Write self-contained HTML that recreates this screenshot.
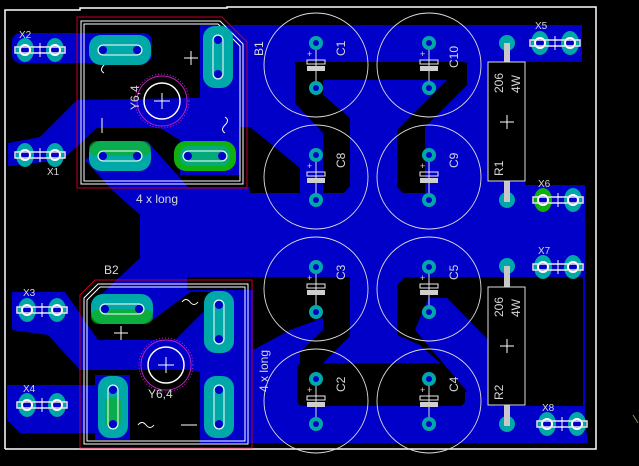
<!DOCTYPE html>
<html><head><meta charset="utf-8"><style>
html,body{margin:0;padding:0;background:#000;}
svg{display:block}
text{font-family:"Liberation Sans",sans-serif;fill:#d8d8d8;}
</style></head><body>
<svg width="639" height="466" viewBox="0 0 639 466" xmlns="http://www.w3.org/2000/svg">
<rect width="639" height="466" fill="#000"/>
<g fill="#0000c8">
<polygon points="200,25 582,25 582,62 525,62 525,185 585,185 585,420 588,443 253,443 253,292 190,292 150,322 118,322 95,300 140,258 140,195 250,192 250,100 200,100"/>
<rect x="12" y="33" width="140" height="30" rx="8"/>
<polygon points="8,143 40,137 77,100 250,97 318,140 318,165 300,170 250,127 240,127 240,175 180,175 180,140 160,128 97,128 62,160 8,166"/>
<polygon points="85,160 108,142 148,142 188,187 250,187 250,200 140,215 112,190"/>
<polygon points="12,292 65,292 98,340 175,340 240,275 253,270 253,372 200,372 190,370 80,370 48,335 12,330"/>
<polygon points="7,385 95,385 95,375 130,375 130,440 95,440 95,433 20,433 7,420"/>
<rect x="200" y="372" width="53" height="71"/>
</g>
<g fill="#000">
<polygon points="250,127 300,168 300,193 250,193"/>
<rect x="295" y="62" width="172" height="18" rx="4"/>
<polygon points="295,62 330,62 330,80 323,80 323,95 350,118 350,186 344,193 323,193 323,133 295,103"/>
<polygon points="467,62 467,85 425,127 425,193 403,193 397,187 397,130 447,80"/>
<polygon points="187,277 350,277 350,336 320,366 300,366 300,352 323,330 323,290 187,290"/>
<polygon points="253,290 323,290 323,318 290,330 253,350"/>
<rect x="297" y="363" width="168" height="43" rx="6"/>
<polygon points="405,277 583,277 583,406 527,406 527,406 465,406 465,385 420,345 397,335 397,285"/>
</g>
<g fill="#0000c8">
<polygon points="428,298 447,298 500,352 500,395 470,395 415,330"/>
<rect x="465" y="392" width="30" height="51"/>
</g>
<polyline points="5,449 5,10 80,10 80,8 227,8 227,7 596,7 596,449 5,449" fill="none" stroke="#fff" stroke-width="1.5"/>

<g fill="none">
<polygon points="77,17 222,17 247,42 247,188 77,188" stroke="#c00020" stroke-width="1"/>
<polygon points="81,21 220,21 243,44 243,184 81,184" stroke="#fff" stroke-width="1"/>
<polygon points="84,24 218,24 240,46 240,181 84,181" stroke="#fff" stroke-width="1"/>
<circle cx="162" cy="101" r="27" stroke="#c020c0" stroke-dasharray="1 2"/>
<circle cx="162" cy="101" r="25" stroke="#c020c0"/>
<circle cx="162" cy="101" r="18" stroke="#fff" stroke-width="1.5"/>
</g>
<g fill="none">
<polygon points="95,280 252,280 252,448 80,448 80,295" stroke="#c00020" stroke-width="1"/>
<polygon points="98,284 248,284 248,444 84,444 84,298" stroke="#fff"/>
<polygon points="100,287 245,287 245,441 87,441 87,300" stroke="#fff"/>
<circle cx="166" cy="365" r="27" stroke="#c020c0" stroke-dasharray="1 2"/>
<circle cx="166" cy="365" r="25" stroke="#c020c0"/>
<circle cx="166" cy="365" r="18" stroke="#fff" stroke-width="1.5"/>
</g>
<g stroke="#fff" stroke-width="1">
<line x1="154" y1="101" x2="170" y2="101"/><line x1="162" y1="93" x2="162" y2="109"/>
<line x1="158" y1="365" x2="174" y2="365"/><line x1="166" y1="357" x2="166" y2="373"/>
<line x1="184" y1="58" x2="198" y2="58"/><line x1="191" y1="51" x2="191" y2="65"/>
<line x1="102" y1="118" x2="102" y2="133"/>
<line x1="114" y1="333" x2="128" y2="333"/><line x1="121" y1="326" x2="121" y2="340"/>
<line x1="181" y1="425" x2="197" y2="425"/>
</g>
<g fill="none" stroke="#fff">
<path d="M104,73 q-5,-3 0,-8 q5,-5 0,-8" />
<path d="M225,117 q5,3 0,8 q-5,5 0,8"/>
<path d="M182,302 q4,-5 8,0 q4,5 8,0"/>
<path d="M138,425 q4,-5 8,0 q4,5 8,0"/>
</g>

<g>
<g transform="translate(120,50)"><rect x="-31" y="-15" width="62" height="30" rx="12" fill="#00a8a8"/><rect x="-22" y="-5" width="44" height="10" rx="5" fill="none" stroke="#fff"/><circle cx="-17" r="4" fill="#0000c8"/><circle cx="17" r="4" fill="#0000c8"/></g>
<g transform="translate(120,156)"><rect x="-31" y="-15" width="62" height="30" rx="12" fill="#00a8a8"/><rect x="-31" y="-15" width="62" height="15" rx="8" fill="#10b010" opacity=".6"/><rect x="-22" y="-5" width="44" height="10" rx="5" fill="none" stroke="#fff"/><circle cx="-17" r="4" fill="#0000c8"/><circle cx="17" r="4" fill="#0000c8"/></g>
<g transform="translate(205,156)"><rect x="-31" y="-15" width="62" height="30" rx="12" fill="#10b010"/><rect x="-25" y="-10" width="50" height="20" rx="9" fill="#00a8a8" opacity=".7"/><rect x="-22" y="-5" width="44" height="10" rx="5" fill="none" stroke="#fff"/><circle cx="-17" r="4" fill="#0000c8"/><circle cx="17" r="4" fill="#0000c8"/></g>
<g transform="translate(218,57)"><rect x="-15" y="-31" width="30" height="62" rx="12" fill="#00a8a8"/><rect x="-5" y="-22" width="10" height="44" rx="5" fill="none" stroke="#fff"/><circle cy="-17" r="4" fill="#0000c8"/><circle cy="17" r="4" fill="#0000c8"/></g>
<g transform="translate(122,309)"><rect x="-31" y="-15" width="62" height="30" rx="12" fill="#00a8a8"/><rect x="-31" y="0" width="62" height="15" rx="8" fill="#10b010" opacity=".7"/><rect x="-22" y="-5" width="44" height="10" rx="5" fill="none" stroke="#fff"/><circle cx="-17" r="4" fill="#0000c8"/><circle cx="17" r="4" fill="#0000c8"/></g>
<g transform="translate(219,322)"><rect x="-15" y="-31" width="30" height="62" rx="12" fill="#00a8a8"/><rect x="-5" y="-22" width="10" height="44" rx="5" fill="none" stroke="#fff"/><circle cy="-17" r="4" fill="#0000c8"/><circle cy="17" r="4" fill="#0000c8"/></g>
<g transform="translate(113,407)"><rect x="-15" y="-31" width="30" height="62" rx="12" fill="#00a8a8"/><rect x="-8" y="-10" width="16" height="30" rx="6" fill="#10b010" opacity=".6"/><rect x="-5" y="-22" width="10" height="44" rx="5" fill="none" stroke="#fff"/><circle cy="-17" r="4" fill="#0000c8"/><circle cy="17" r="4" fill="#0000c8"/></g>
<g transform="translate(219,407)"><rect x="-15" y="-31" width="30" height="62" rx="12" fill="#00a8a8"/><rect x="-5" y="-22" width="10" height="44" rx="5" fill="none" stroke="#fff"/><circle cy="-17" r="4" fill="#0000c8"/><circle cy="17" r="4" fill="#0000c8"/></g>
</g>

<g fill="none" stroke="#e0e0e0" stroke-width="0.9">
<circle cx="316" cy="65" r="52"/><circle cx="429" cy="65" r="52"/>
<circle cx="316" cy="177" r="52"/><circle cx="429" cy="177" r="52"/>
<circle cx="316" cy="289" r="52"/><circle cx="429" cy="289" r="52"/>
<circle cx="316" cy="401" r="52"/><circle cx="429" cy="401" r="52"/>
</g>
<g>
<g transform="translate(316,65)"><line y1="-22" y2="23" stroke="#ddd"/><rect x="-9" y="-5" width="18" height="4" fill="none" stroke="#eee"/><rect x="-9" y="1" width="18" height="5" fill="#cfcfcf"/><text x="-9" y="-8" font-size="9">+</text><circle cy="-22" r="7" fill="#00a8a8"/><circle cy="-22" r="3" fill="#0000c8"/><circle cy="23" r="7" fill="#00a8a8"/><circle cy="23" r="3" fill="#0000c8"/></g>
<g transform="translate(429,65)"><line y1="-22" y2="23" stroke="#ddd"/><rect x="-9" y="-5" width="18" height="4" fill="none" stroke="#eee"/><rect x="-9" y="1" width="18" height="5" fill="#cfcfcf"/><text x="-9" y="-8" font-size="9">+</text><circle cy="-22" r="7" fill="#00a8a8"/><circle cy="-22" r="3" fill="#0000c8"/><circle cy="23" r="7" fill="#00a8a8"/><circle cy="23" r="3" fill="#0000c8"/></g>
<g transform="translate(316,177)"><line y1="-22" y2="23" stroke="#ddd"/><rect x="-9" y="-5" width="18" height="4" fill="none" stroke="#eee"/><rect x="-9" y="1" width="18" height="5" fill="#cfcfcf"/><text x="-9" y="-8" font-size="9">+</text><circle cy="-22" r="7" fill="#00a8a8"/><circle cy="-22" r="3" fill="#0000c8"/><circle cy="23" r="7" fill="#00a8a8"/><circle cy="23" r="3" fill="#0000c8"/></g>
<g transform="translate(429,177)"><line y1="-22" y2="23" stroke="#ddd"/><rect x="-9" y="-5" width="18" height="4" fill="none" stroke="#eee"/><rect x="-9" y="1" width="18" height="5" fill="#cfcfcf"/><text x="-9" y="-8" font-size="9">+</text><circle cy="-22" r="7" fill="#00a8a8"/><circle cy="-22" r="3" fill="#0000c8"/><circle cy="23" r="7" fill="#00a8a8"/><circle cy="23" r="3" fill="#0000c8"/></g>
<g transform="translate(316,289)"><line y1="-22" y2="23" stroke="#ddd"/><rect x="-9" y="-5" width="18" height="4" fill="none" stroke="#eee"/><rect x="-9" y="1" width="18" height="5" fill="#cfcfcf"/><text x="-9" y="-8" font-size="9">+</text><circle cy="-22" r="7" fill="#00a8a8"/><circle cy="-22" r="3" fill="#0000c8"/><circle cy="23" r="7" fill="#00a8a8"/><circle cy="23" r="3" fill="#0000c8"/></g>
<g transform="translate(429,289)"><line y1="-22" y2="23" stroke="#ddd"/><rect x="-9" y="-5" width="18" height="4" fill="none" stroke="#eee"/><rect x="-9" y="1" width="18" height="5" fill="#cfcfcf"/><text x="-9" y="-8" font-size="9">+</text><circle cy="-22" r="7" fill="#00a8a8"/><circle cy="-22" r="3" fill="#0000c8"/><circle cy="23" r="7" fill="#00a8a8"/><circle cy="23" r="3" fill="#0000c8"/></g>
<g transform="translate(316,401)"><line y1="-22" y2="23" stroke="#ddd"/><rect x="-9" y="-5" width="18" height="4" fill="none" stroke="#eee"/><rect x="-9" y="1" width="18" height="5" fill="#cfcfcf"/><text x="-9" y="-8" font-size="9">+</text><circle cy="-22" r="7" fill="#00a8a8"/><circle cy="-22" r="3" fill="#0000c8"/><circle cy="23" r="7" fill="#00a8a8"/><circle cy="23" r="3" fill="#0000c8"/></g>
<g transform="translate(429,401)"><line y1="-22" y2="23" stroke="#ddd"/><rect x="-9" y="-5" width="18" height="4" fill="none" stroke="#eee"/><rect x="-9" y="1" width="18" height="5" fill="#cfcfcf"/><text x="-9" y="-8" font-size="9">+</text><circle cy="-22" r="7" fill="#00a8a8"/><circle cy="-22" r="3" fill="#0000c8"/><circle cy="23" r="7" fill="#00a8a8"/><circle cy="23" r="3" fill="#0000c8"/></g>
</g>
<g font-size="12">
<text transform="translate(345,56) rotate(-90)">C1</text>
<text transform="translate(458,68) rotate(-90)">C10</text>
<text transform="translate(345,168) rotate(-90)">C8</text>
<text transform="translate(458,168) rotate(-90)">C9</text>
<text transform="translate(345,280) rotate(-90)">C3</text>
<text transform="translate(458,280) rotate(-90)">C5</text>
<text transform="translate(345,392) rotate(-90)">C2</text>
<text transform="translate(458,392) rotate(-90)">C4</text>
<text transform="translate(263,56) rotate(-90)">B1</text>
<text x="104" y="274">B2</text>
<text x="136" y="203">4 x long</text>
<text transform="translate(268,392) rotate(-90)">4 x long</text>
<text transform="translate(139,110) rotate(-90)">Y6,4</text>
<text x="148" y="398">Y6,4</text>
</g>

<g>
<rect x="504" y="43" width="6" height="160" fill="#c8c8c8"/>
<rect x="488" y="62" width="37" height="119" fill="#000" stroke="#ddd"/>
<circle cx="507" cy="43" r="8" fill="#00a8a8"/><circle cx="507" cy="200" r="8" fill="#00a8a8"/>
<rect x="504" y="43" width="6" height="10" fill="#c8c8c8"/><rect x="504" y="190" width="6" height="12" fill="#c8c8c8"/>
<line x1="500" y1="122" x2="514" y2="122" stroke="#fff"/><line x1="507" y1="115" x2="507" y2="129" stroke="#fff"/>
<rect x="504" y="266" width="6" height="160" fill="#c8c8c8"/>
<rect x="488" y="287" width="37" height="118" fill="#000" stroke="#ddd"/>
<circle cx="507" cy="266" r="8" fill="#00a8a8"/><circle cx="507" cy="424" r="8" fill="#00a8a8"/>
<rect x="504" y="266" width="6" height="10" fill="#c8c8c8"/><rect x="504" y="414" width="6" height="12" fill="#c8c8c8"/>
<line x1="500" y1="346" x2="514" y2="346" stroke="#fff"/><line x1="507" y1="339" x2="507" y2="353" stroke="#fff"/>
</g>
<g font-size="12">
<text transform="translate(503,93) rotate(-90)">206</text>
<text transform="translate(520,93) rotate(-90)">4W</text>
<text transform="translate(503,176) rotate(-90)">R1</text>
<text transform="translate(503,317) rotate(-90)">206</text>
<text transform="translate(520,317) rotate(-90)">4W</text>
<text transform="translate(503,400) rotate(-90)">R2</text>
</g>

<g>
<g transform="translate(25,50)"><ellipse rx="9" ry="12" fill="#00a8a8"/><ellipse cx="30" rx="9" ry="12" fill="#00a8a8"/><circle r="5" fill="#0000c8" stroke="#fff" stroke-width="2"/><circle cx="30" r="5" fill="#0000c8" stroke="#fff" stroke-width="2"/><rect x="-10" y="-3" width="50" height="6" fill="none" stroke="#e8e8e8" stroke-width="1.5"/><line x1="15" y1="-7" x2="15" y2="7" stroke="#fff"/></g>
<g transform="translate(25,155)"><ellipse rx="9" ry="12" fill="#00a8a8"/><ellipse cx="30" rx="9" ry="12" fill="#00a8a8"/><circle r="5" fill="#0000c8" stroke="#fff" stroke-width="2"/><circle cx="30" r="5" fill="#0000c8" stroke="#fff" stroke-width="2"/><rect x="-10" y="-3" width="50" height="6" fill="none" stroke="#e8e8e8" stroke-width="1.5"/><line x1="15" y1="-7" x2="15" y2="7" stroke="#fff"/></g>
<g transform="translate(27,310)"><ellipse rx="9" ry="12" fill="#00a8a8"/><ellipse cx="30" rx="9" ry="12" fill="#00a8a8"/><circle r="5" fill="#0000c8" stroke="#fff" stroke-width="2"/><circle cx="30" r="5" fill="#0000c8" stroke="#fff" stroke-width="2"/><rect x="-10" y="-3" width="50" height="6" fill="none" stroke="#e8e8e8" stroke-width="1.5"/><line x1="15" y1="-7" x2="15" y2="7" stroke="#fff"/></g>
<g transform="translate(27,405)"><ellipse rx="9" ry="12" fill="#00a8a8"/><ellipse cx="30" rx="9" ry="12" fill="#00a8a8"/><circle r="5" fill="#0000c8" stroke="#fff" stroke-width="2"/><circle cx="30" r="5" fill="#0000c8" stroke="#fff" stroke-width="2"/><rect x="-10" y="-3" width="50" height="6" fill="none" stroke="#e8e8e8" stroke-width="1.5"/><line x1="15" y1="-7" x2="15" y2="7" stroke="#fff"/></g>
<g transform="translate(540,43)"><ellipse rx="9" ry="12" fill="#00a8a8"/><ellipse cx="30" rx="9" ry="12" fill="#00a8a8"/><circle r="5" fill="#0000c8" stroke="#fff" stroke-width="2"/><circle cx="30" r="5" fill="#0000c8" stroke="#fff" stroke-width="2"/><rect x="-10" y="-3" width="50" height="6" fill="none" stroke="#e8e8e8" stroke-width="1.5"/><line x1="15" y1="-7" x2="15" y2="7" stroke="#fff"/></g>
<g transform="translate(543,200)"><ellipse rx="9" ry="12" fill="#10b010"/><ellipse cx="30" rx="9" ry="12" fill="#00a8a8"/><circle r="5" fill="#0000c8" stroke="#fff" stroke-width="2"/><circle cx="30" r="5" fill="#0000c8" stroke="#fff" stroke-width="2"/><rect x="-10" y="-3" width="50" height="6" fill="none" stroke="#e8e8e8" stroke-width="1.5"/><line x1="15" y1="-7" x2="15" y2="7" stroke="#fff"/></g>
<g transform="translate(543,267)"><ellipse rx="9" ry="12" fill="#00a8a8"/><ellipse cx="30" rx="9" ry="12" fill="#00a8a8"/><circle r="5" fill="#0000c8" stroke="#fff" stroke-width="2"/><circle cx="30" r="5" fill="#0000c8" stroke="#fff" stroke-width="2"/><rect x="-10" y="-3" width="50" height="6" fill="none" stroke="#e8e8e8" stroke-width="1.5"/><line x1="15" y1="-7" x2="15" y2="7" stroke="#fff"/></g>
<g transform="translate(547,424)"><ellipse rx="9" ry="12" fill="#00a8a8"/><ellipse cx="30" rx="9" ry="12" fill="#00a8a8"/><circle r="5" fill="#0000c8" stroke="#fff" stroke-width="2"/><circle cx="30" r="5" fill="#0000c8" stroke="#fff" stroke-width="2"/><rect x="-10" y="-3" width="50" height="6" fill="none" stroke="#e8e8e8" stroke-width="1.5"/><line x1="15" y1="-7" x2="15" y2="7" stroke="#fff"/></g>
</g>
<g font-size="10">
<text x="19" y="38">X2</text>
<text x="47" y="175">X1</text>
<text x="23" y="296">X3</text>
<text x="23" y="392">X4</text>
<text x="535" y="29">X5</text>
<text x="538" y="187">X6</text>
<text x="538" y="254">X7</text>
<text x="542" y="411">X8</text>
</g>
<line x1="633" y1="415" x2="638" y2="423" stroke="#8a8a60"/>
</svg>
</body></html>
